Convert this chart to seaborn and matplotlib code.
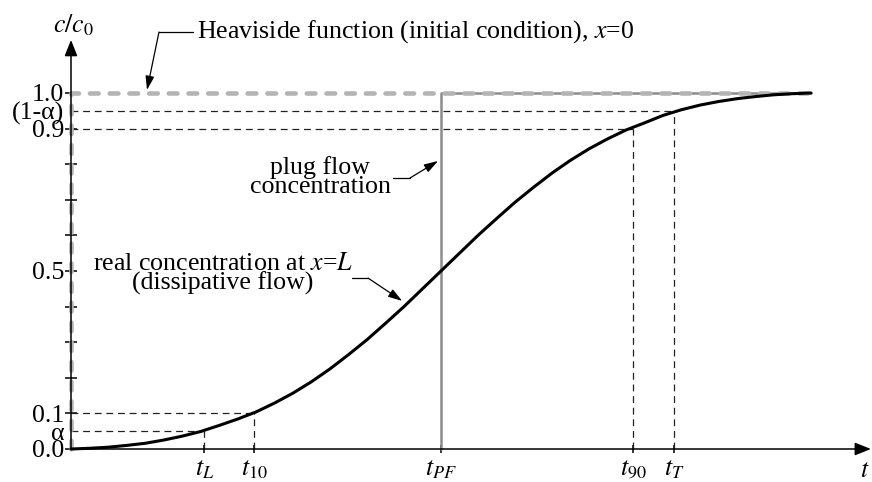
import matplotlib
matplotlib.use("Agg")
import matplotlib.pyplot as plt
import seaborn as sns

sns.set_theme(style="white")
plt.rcParams['font.family'] = ['Liberation Serif', 'DejaVu Serif']
plt.rcParams['mathtext.fontset'] = 'stix'
plt.rcParams['text.color'] = 'black'

# breakthrough curve (time scaled so that t_PF = 1)
t_curve = [0.00, 0.05, 0.10, 0.15, 0.20, 0.25, 0.30, 0.35, 0.40, 0.45, 0.50,
           0.55, 0.60, 0.65, 0.70, 0.75, 0.80, 0.85, 0.90, 0.95, 1.00,
           1.05, 1.10, 1.15, 1.20, 1.25, 1.30, 1.35, 1.40, 1.45, 1.50,
           1.55, 1.60, 1.65, 1.70, 1.75, 1.80, 1.85, 1.90, 1.95, 2.00]
c_curve = [0.000, 0.002, 0.005, 0.010, 0.016, 0.025, 0.036, 0.049, 0.066, 0.084, 0.104,
           0.129, 0.157, 0.189, 0.225, 0.265, 0.307, 0.353, 0.400, 0.450, 0.500,
           0.550, 0.600, 0.647, 0.693, 0.735, 0.775, 0.811, 0.843, 0.871, 0.896,
           0.916, 0.937, 0.953, 0.966, 0.976, 0.984, 0.990, 0.995, 0.998, 1.000]

alpha = 0.05
t_end = 2.0
t_axis_end = 2.162
c_axis_end = 1.149

# marked times and the levels they belong to
t_marks = [0.36, 0.495, 1.0, 1.52, 1.63]
t_labels = ["$t_L$", "$t_{10}$", "$t_{PF}$", "$t_{90}$", "$t_T$"]
guide_t = [0.36, 0.495, 1.52, 1.63]
guide_c = [alpha, 0.1, 0.9, 1 - alpha]

y_ticks = [0.0, alpha, 0.1, 0.2, 0.3, 0.4, 0.5, 0.6, 0.7, 0.8, 0.9, 1 - alpha, 1.0]
y_labels = ["0.0", "α", "0.1", "", "", "", "0.5", "", "", "", "0.9", "(1-α)", "1.0"]
no_tick = [1, 11]

fs = 18.6

fig = plt.figure(figsize=(8.72, 4.82), dpi=100)
ax = fig.add_axes([0, 0, 1, 1])
ax.set_xlim(-0.1919, 2.1649)
ax.set_ylim(-0.0927, 1.2612)

for s in ['top', 'right']:
    ax.spines[s].set_visible(False)
ax.spines['left'].set_position(('data', 0))
ax.spines['bottom'].set_position(('data', 0))
ax.spines['left'].set_visible(False)
ax.spines['bottom'].set_visible(False)

# axes as arrows
arrow_kw = dict(arrowstyle="-|>,head_length=0.75,head_width=0.3", color="black",
                lw=1.1, mutation_scale=13, shrinkA=0, shrinkB=0)
ax.annotate("", xy=(t_axis_end, 0), xytext=(0, 0), arrowprops=arrow_kw, zorder=6)
ax.annotate("", xy=(0, c_axis_end), xytext=(0, 0), arrowprops=arrow_kw, zorder=6)

# ticks
ax.set_xticks(t_marks, t_labels)
ax.set_yticks(y_ticks, y_labels)
ax.tick_params(axis='x', bottom=True, direction='inout', length=6, width=1.1,
               pad=3.5, labelsize=fs, color='black', labelcolor='black')
ax.tick_params(axis='y', left=True, direction='inout', length=8.6, width=1.1,
               pad=0.5, labelsize=fs, color='black', labelcolor='black')
for i, tick in enumerate(ax.yaxis.get_major_ticks()):
    if i in no_tick:
        tick.tick1line.set_visible(False)
ax.grid(False)

# dashed guide lines
for tg, cg in zip(guide_t, guide_c):
    ax.plot([0, tg], [cg, cg], color='#222222', lw=0.9, ls=(0, (5.5, 3.8)), zorder=2)
    ax.plot([tg, tg], [0, cg], color='#222222', lw=0.9, ls=(0, (5.5, 3.8)), zorder=2)

# plug flow
ax.plot([1, 1, t_end], [0, 1, 1], color='#8c8c8c', lw=1.8, zorder=3)
# Heaviside
ax.plot([0, 0, t_end], [0, 1, 1], color='#b4b4b4', lw=3.3, ls=(0, (1.9, 2.4)),
        dash_capstyle='round', zorder=4)

# real concentration
sns.lineplot(x=t_curve, y=c_curve, color='black', lw=2.2, ax=ax, zorder=5)

# labels
ax.text(0.0054, 1.191, "$c/c_0$", fontsize=fs, ha='center', va='center')
ax.text(2.145, -0.063, "$t$", fontsize=fs, ha='center', va='center')

pointer_kw = dict(arrowstyle="-|>,head_length=0.7,head_width=0.22", color="black",
                  lw=0.9, mutation_scale=12, shrinkA=0, shrinkB=0)

ax.text(0.3405, 1.1713, "Heaviside function (initial condition), $x$=0",
        fontsize=fs, ha='left', va='center')
ax.plot([0.2378, 0.33], [1.1713, 1.1713], color='black', lw=0.9)
ax.annotate("", xy=(0.2054, 1.0084), xytext=(0.2378, 1.1713), arrowprops=pointer_kw)

ax.text(0.673, 0.764, "plug flow\nconcentration", fontsize=fs, ha='center',
        va='center', linespacing=0.8)
ax.plot([0.870, 0.916], [0.761, 0.761], color='black', lw=0.9)
ax.annotate("", xy=(0.992, 0.809), xytext=(0.916, 0.761), arrowprops=pointer_kw)

ax.text(0.411, 0.4916, "real concentration at $x$=$L$\n(dissipative flow)",
        fontsize=fs, ha='center', va='center', linespacing=0.85)
ax.plot([0.759, 0.803], [0.480, 0.480], color='black', lw=0.9)
ax.annotate("", xy=(0.895, 0.416), xytext=(0.803, 0.480), arrowprops=pointer_kw)

fig.savefig("out.png", dpi=100)
